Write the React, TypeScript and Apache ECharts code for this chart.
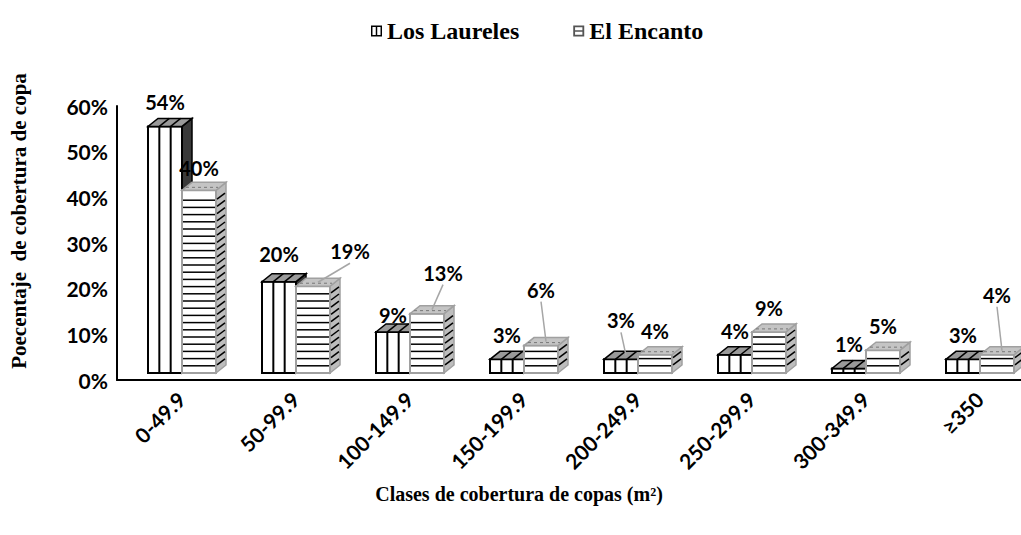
import React, { useEffect, useRef } from "react";
import * as echarts from "echarts";

const categories = ["0-49.9", "50-99.9", "100-149.9", "150-199.9", "200-249.9", "250-299.9", "300-349.9", "≥350"];
const laureles = [54, 20, 9, 3, 3, 4, 1, 3];
const encanto = [40, 19, 13, 6, 4, 9, 5, 4];
const yTicks = [0, 60, 10]; // min, max, interval

// label nudges (pixels) relative to the default spot above each bar
const laurelesLabelShift = [[0, 0], [0, -4], [0, 7], [0, 0], [0, -15], [0, 0], [0, 0], [0, 0]];
const encantoLabelShift = [[0, 2], [37, -11], [16, -17], [0, -32], [0, 0], [0, 0], [0, 0], [0, -36]];

const W = 34; // bar front width
const DX = 10; // 3D depth x
const DY = 8; // 3D depth y
const SHIFT = 8; // perspective shift of the pair
const LIFT = 7; // front face lift above the axis

function makeRender(side: number, shifts: number[][]) {
  return (params: any, api: any) => {
    const i = api.value(0);
    const v = api.value(1);
    const top = api.coord([i, v]);
    const base = api.coord([i, 0]);
    const cx = top[0] + SHIFT;
    const yt = top[1] - LIFT;
    const yb = base[1] - LIFT;
    const x0 = side === 0 ? cx - W : cx;
    const x1 = x0 + W;
    const children: any[] = [];
    if (side === 0) {
      children.push({
        type: "polygon",
        shape: { points: [[x1, yb], [x1 + DX, yb - DY], [x1 + DX, yt - DY], [x1, yt]] },
        style: { fill: "#3a3a3a", stroke: "#000", lineWidth: 1.5 },
      });
      children.push({
        type: "rect",
        shape: { x: x0, y: yt, width: W, height: yb - yt },
        style: { fill: "#fff", stroke: "#000", lineWidth: 2 },
      });
      for (let k = 1; k < 3; k++) {
        const x = x0 + (W * k) / 3;
        children.push({ type: "line", shape: { x1: x, y1: yt, x2: x, y2: yb }, style: { stroke: "#000", lineWidth: 2 } });
      }
      children.push({
        type: "polygon",
        shape: { points: [[x0, yt], [x1, yt], [x1 + DX, yt - DY], [x0 + DX, yt - DY]] },
        style: { fill: "#9a9a9a", stroke: "#000", lineWidth: 1.5 },
      });
      for (let k = 1; k < 3; k++) {
        const x = x0 + (W * k) / 3;
        children.push({ type: "line", shape: { x1: x, y1: yt, x2: x + DX, y2: yt - DY }, style: { stroke: "#000", lineWidth: 1.5 } });
      }
    } else {
      const gray = "#a0a0a0";
      children.push({
        type: "polygon",
        shape: { points: [[x1, yb], [x1 + DX, yb - DY], [x1 + DX, yt - DY], [x1, yt]] },
        style: { fill: "#bdbdbd", stroke: gray, lineWidth: 1.5 },
      });
      children.push({
        type: "rect",
        shape: { x: x0, y: yt, width: W, height: yb - yt },
        style: { fill: "#fff", stroke: gray, lineWidth: 2 },
      });
      const step = 7.2;
      for (let y = yb - step; y > yt + 3; y -= step) {
        children.push({ type: "line", shape: { x1: x0 + 1, y1: y, x2: x1 - 1, y2: y }, style: { stroke: "#000", lineWidth: 1.5 } });
        children.push({ type: "line", shape: { x1: x1 + 1, y1: y - 1, x2: x1 + DX - 1, y2: y - DY + 1 }, style: { stroke: "#000", lineWidth: 1.5 } });
      }
      children.push({
        type: "polygon",
        shape: { points: [[x0, yt], [x1, yt], [x1 + DX, yt - DY], [x0 + DX, yt - DY]] },
        style: { fill: "#c4c4c4", stroke: gray, lineWidth: 1.5 },
      });
      children.push({
        type: "line",
        shape: { x1: x0 + 4, y1: yt - 3, x2: x1 + 2, y2: yt - 3 },
        style: { stroke: "#777", lineWidth: 1, lineDash: [3, 3] },
      });
    }
    const s = shifts[params.dataIndex] || [0, 0];
    const lx = x0 + W / 2 + s[0];
    const ly = yt - DY - 16 + s[1];
    if (Math.abs(s[0]) >= 10 || s[1] <= -10) {
      children.push({
        type: "line",
        shape: { x1: lx, y1: ly + 12, x2: x0 + W / 2 + DX / 2, y2: yt - DY / 2 },
        style: { stroke: "#a6a6a6", lineWidth: 1.5 },
      });
    }
    children.push({
      type: "text",
      style: {
        text: v + "%",
        x: lx,
        y: ly,
        align: "center",
        verticalAlign: "middle",
        fontFamily: "Lato",
        fontWeight: "bold",
        fontSize: 20,
        fill: "#000",
      },
    });
    return { type: "group", children };
  };
}

const iconL = "path://M0,0H12V1.6H0Z M0,10.4H12V12H0Z M0,0H1.6V12H0Z M10.4,0H12V12H10.4Z M5.2,0H6.8V12H5.2Z";
const iconE = "path://M0,0H12V2H0Z M0,10H12V12H0Z M0,0H2V12H0Z M10,0H12V12H10Z M0,5.2H12V6.8H0Z";

export default function App() {
  const ref = useRef<HTMLDivElement>(null);
  useEffect(() => {
    const chart = echarts.init(ref.current as HTMLDivElement, null, { renderer: "svg" });
    chart.setOption({
      animation: false,
      backgroundColor: "#fff",
      legend: {
        top: 14,
        left: 366,
        itemWidth: 11,
        itemHeight: 11,
        itemGap: 54,
        textStyle: { fontFamily: "Liberation Serif", fontWeight: "bold", fontSize: 24, color: "#000" },
        data: [
          { name: "Los Laureles", icon: iconL, itemStyle: { color: "#000" } },
          { name: "El Encanto", icon: iconE, itemStyle: { color: "#555" } },
        ],
      },
      grid: { left: 117, right: -8, top: 106, bottom: 155, outerBoundsMode: "none", containLabel: false },
      xAxis: {
        type: "category",
        data: categories,
        axisLine: { lineStyle: { color: "#000", width: 2 } },
        axisTick: { show: false },
        axisLabel: {
          interval: 0,
          rotate: 45,
          margin: 8,
          verticalAlign: "top",
          fontFamily: "Lato",
          fontWeight: "bold",
          fontSize: 21,
          color: "#000",
        },
        name: "Clases de cobertura de copas (m²)",
        nameLocation: "middle",
        nameGap: 104,
        nameTextStyle: {
          fontFamily: "Liberation Serif",
          fontWeight: "bold",
          fontSize: 20,
          color: "#000",
          padding: [0, 108, 0, 0],
        },
      },
      yAxis: {
        type: "value",
        min: yTicks[0],
        max: yTicks[1],
        interval: yTicks[2],
        splitLine: { show: false },
        axisLine: { show: true, lineStyle: { color: "#000", width: 2 } },
        axisTick: { show: false },
        axisLabel: {
          formatter: "{value}%",
          margin: 9,
          fontFamily: "Lato",
          fontWeight: "bold",
          fontSize: 21,
          color: "#000",
        },
        name: "Poecentaje  de cobertura de copa",
        nameLocation: "middle",
        nameGap: 88,
        nameTextStyle: {
          fontFamily: "Liberation Serif",
          fontWeight: "bold",
          fontSize: 21,
          color: "#000",
          padding: [0, 0, 0, 44],
        },
      },
      series: [
        {
          name: "Los Laureles",
          type: "custom",
          renderItem: makeRender(0, laurelesLabelShift),
          data: laureles.map((v, i) => [i, v]),
          itemStyle: { color: "#000" },
        },
        {
          name: "El Encanto",
          type: "custom",
          renderItem: makeRender(1, encantoLabelShift),
          data: encanto.map((v, i) => [i, v]),
          itemStyle: { color: "#555" },
        },
      ],
    });
    return () => chart.dispose();
  }, []);
  return <div ref={ref} style={{ position: "fixed", left: 0, top: 0, width: 1021, height: 535 }} />;
}
